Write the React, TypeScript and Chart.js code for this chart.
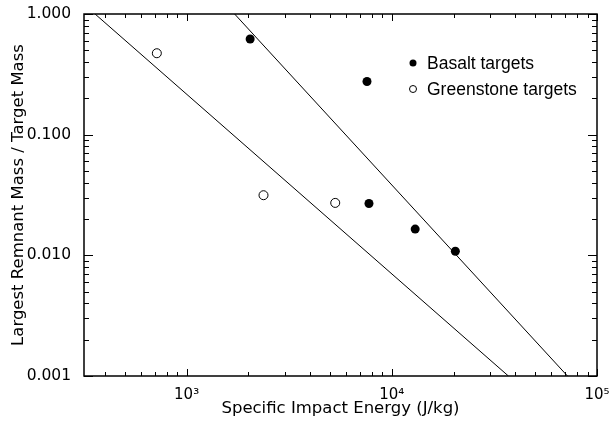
import { useEffect, useRef } from 'react';
import { Chart, registerables } from 'chart.js';

Chart.register(...registerables);

// Specific impact energy (J/kg) and largest-remnant mass fraction
const basaltEnergy = [2040, 7570, 7740, 13000, 20400];
const basaltMassFrac = [0.62, 0.276, 0.0269, 0.0165, 0.0108];
const greenstoneEnergy = [716, 2370, 5300];
const greenstoneMassFrac = [0.473, 0.0315, 0.0272];

// Power-law fit lines (end points)
const basaltFitEnergy = [1714, 71800];
const basaltFitMass = [1.0, 0.001];
const greenstoneFitEnergy = [358, 37000];
const greenstoneFitMass = [1.0, 0.001];

const xMin = 316.2;
const xMax = 100000;
const yMin = 0.001;
const yMax = 1;

const legendLabels = ['Basalt targets', 'Greenstone targets'];
const xTitle = 'Specific Impact Energy (J/kg)';
const yTitle = 'Largest Remnant Mass / Target Mass';
const superscripts: Record<string, string> = { '2': '²', '3': '³', '4': '⁴', '5': '⁵' };

const pts = (xs: number[], ys: number[]) => xs.map((x, i) => ({ x, y: ys[i] }));
const isDecade = (v: number) => Math.abs(Math.log10(v) - Math.round(Math.log10(v))) < 1e-6;

const FONT = "'DejaVu Sans', sans-serif";

const framePlugin = {
  id: 'frame',
  afterDraw(chart: any) {
    const { ctx, chartArea: a, scales } = chart;
    const xs = scales.x;
    const ys = scales.y;
    ctx.save();
    ctx.strokeStyle = '#000';
    // inward ticks
    ctx.lineWidth = 1;
    ctx.beginPath();
    for (let n = 2; n <= 5; n++) {
      for (let k = 1; k <= 9; k++) {
        const v = k * Math.pow(10, n);
        if (v < xMin * 1.0001 || v > xMax * 1.0001) continue;
        const px = Math.round(xs.getPixelForValue(v)) + 0.5;
        const len = k === 1 ? 7 : 4;
        ctx.moveTo(px, a.bottom);
        ctx.lineTo(px, a.bottom - len);
        ctx.moveTo(px, a.top);
        ctx.lineTo(px, a.top + len);
      }
    }
    for (let n = -3; n <= 0; n++) {
      for (let k = 1; k <= 9; k++) {
        const v = k * Math.pow(10, n);
        if (v < yMin * 0.9999 || v > yMax * 1.0001) continue;
        const py = Math.round(ys.getPixelForValue(v)) + 0.5;
        const len = k === 1 ? 9 : 5;
        ctx.moveTo(a.left, py);
        ctx.lineTo(a.left + len, py);
        ctx.moveTo(a.right, py);
        ctx.lineTo(a.right - len, py);
      }
    }
    ctx.stroke();
    // frame
    ctx.lineWidth = 1.5;
    ctx.strokeRect(a.left, a.top, a.right - a.left, a.bottom - a.top);

    // legend
    const lx = 413;
    const rows = [63, 89];
    ctx.font = "17.5px 'Liberation Sans', Arial, sans-serif";
    ctx.textBaseline = 'middle';
    ctx.textAlign = 'left';
    ctx.fillStyle = '#000';
    rows.forEach((ry, i) => {
      ctx.beginPath();
      ctx.arc(lx, ry, 3.5, 0, Math.PI * 2);
      if (i === 0) {
        ctx.fillStyle = '#000';
        ctx.fill();
      } else {
        ctx.fillStyle = '#fff';
        ctx.fill();
        ctx.lineWidth = 1;
        ctx.stroke();
      }
      ctx.fillStyle = '#000';
      ctx.fillText(legendLabels[i], 427, ry + 1);
    });
    ctx.restore();
  },
};

export default function App() {
  const ref = useRef<HTMLCanvasElement>(null);
  useEffect(() => {
    document.body.style.margin = '0';
    const canvas = ref.current!;
    const chart = new Chart(canvas, {
      type: 'scatter',
      data: {
        datasets: [
          {
            label: 'Basalt fit',
            data: pts(basaltFitEnergy, basaltFitMass),
            showLine: true,
            borderColor: '#000',
            borderWidth: 1,
            pointRadius: 0,
            fill: false,
          },
          {
            label: 'Greenstone fit',
            data: pts(greenstoneFitEnergy, greenstoneFitMass),
            showLine: true,
            borderColor: '#000',
            borderWidth: 1,
            pointRadius: 0,
            fill: false,
          },
          {
            label: legendLabels[0],
            data: pts(basaltEnergy, basaltMassFrac),
            pointStyle: 'circle',
            pointRadius: 4.5,
            backgroundColor: '#000',
            borderColor: '#000',
            borderWidth: 0,
          },
          {
            label: legendLabels[1],
            data: pts(greenstoneEnergy, greenstoneMassFrac),
            pointStyle: 'circle',
            pointRadius: 4.5,
            backgroundColor: '#fff',
            borderColor: '#000',
            borderWidth: 1,
          },
        ],
      },
      options: {
        responsive: false,
        animation: false,
        layout: { padding: { top: 14, right: 13, left: 0, bottom: 0 } },
        plugins: {
          legend: { display: false },
          tooltip: { enabled: false },
        },
        scales: {
          x: {
            type: 'logarithmic',
            min: xMin,
            max: xMax,
            grid: { display: false },
            border: { display: false },
            afterFit: (s: any) => {
              s.height = 48;
              s.paddingLeft = 0;
              s.paddingRight = 0;
            },
            ticks: {
              autoSkip: false,
              maxRotation: 0,
              padding: 2,
              color: '#000',
              font: { family: FONT, size: 15 },
              callback: (v: any) => {
                const n = Number(v);
                if (!isDecade(n)) return '';
                const e = String(Math.round(Math.log10(n)));
                return '10' + (superscripts[e] ?? e);
              },
            },
            title: {
              display: true,
              text: xTitle,
              color: '#000',
              font: { family: FONT, size: 16.5 },
              padding: { top: 0, bottom: 5 },
            },
          },
          y: {
            type: 'logarithmic',
            min: yMin,
            max: yMax,
            grid: { display: false },
            border: { display: false },
            afterFit: (s: any) => {
              s.width = 84;
              s.paddingTop = 0;
              s.paddingBottom = 0;
            },
            ticks: {
              autoSkip: false,
              padding: 5,
              color: '#000',
              font: { family: FONT, size: 15.5 },
              callback: (v: any) => {
                const n = Number(v);
                if (!isDecade(n)) return '';
                return n.toFixed(3);
              },
            },
            title: {
              display: true,
              text: yTitle,
              color: '#000',
              font: { family: FONT, size: 16.5 },
              padding: { top: 9, bottom: 0 },
            },
          },
        },
      },
      plugins: [framePlugin],
    });
    return () => chart.destroy();
  }, []);
  return <canvas ref={ref} width={610} height={424} style={{ display: 'block' }} />;
}
